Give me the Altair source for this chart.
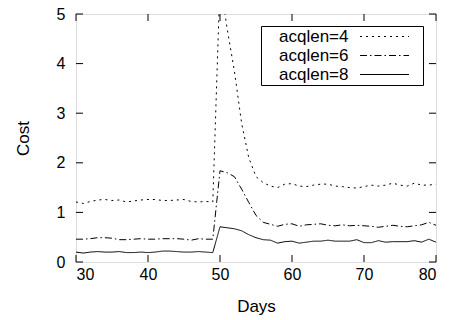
import altair as alt
import pandas as pd

days = list(range(30, 81))
series = ["acqlen=4", "acqlen=6", "acqlen=8"]

cost4 = [1.21, 1.18, 1.22, 1.25, 1.26, 1.24, 1.25, 1.21, 1.23, 1.25,
         1.26, 1.26, 1.24, 1.24, 1.25, 1.26, 1.22, 1.21, 1.22, 1.21,
         5.65, 4.70, 3.85, 2.80, 2.10, 1.72, 1.60, 1.53, 1.50, 1.57,
         1.58, 1.53, 1.52, 1.55, 1.57, 1.57, 1.53, 1.52, 1.50, 1.49,
         1.52, 1.55, 1.53, 1.55, 1.59, 1.55, 1.53, 1.59, 1.55, 1.55,
         1.57]
cost6 = [0.46, 0.46, 0.47, 0.49, 0.49, 0.48, 0.45, 0.45, 0.46, 0.47,
         0.46, 0.46, 0.47, 0.47, 0.47, 0.46, 0.44, 0.47, 0.46, 0.46,
         1.84, 1.80, 1.72, 1.47, 1.20, 0.94, 0.80, 0.76, 0.72, 0.76,
         0.77, 0.72, 0.75, 0.76, 0.77, 0.74, 0.73, 0.75, 0.73, 0.74,
         0.73, 0.72, 0.70, 0.72, 0.74, 0.72, 0.71, 0.73, 0.75, 0.80,
         0.74]
cost8 = [0.20, 0.18, 0.20, 0.21, 0.20, 0.20, 0.21, 0.19, 0.19, 0.20,
         0.19, 0.20, 0.22, 0.22, 0.21, 0.20, 0.20, 0.21, 0.20, 0.19,
         0.71, 0.69, 0.67, 0.63, 0.55, 0.49, 0.45, 0.44, 0.38, 0.41,
         0.42, 0.38, 0.40, 0.42, 0.42, 0.44, 0.42, 0.42, 0.42, 0.45,
         0.39, 0.39, 0.43, 0.40, 0.41, 0.41, 0.41, 0.43, 0.40, 0.46,
         0.40]

x_ticks = [30, 40, 50, 60, 70, 80]
y_ticks = [0, 1, 2, 3, 4, 5]

rows = []
for name, vals in zip(series, [cost4, cost6, cost8]):
    for d, v in zip(days, vals):
        rows.append({"Days": d, "Cost": v, "series": name})
df = pd.DataFrame(rows)

W, H = 360, 248
FONT = "Liberation Sans"
xscale = alt.Scale(domain=[30, 80], nice=False, zero=False)
yscale = alt.Scale(domain=[0, 5], nice=False)

lines = alt.Chart(df).mark_line(clip=True, color="black", strokeWidth=1).encode(
    x=alt.X("Days:Q", scale=xscale,
            axis=alt.Axis(values=x_ticks, ticks=False, domain=False, grid=False,
                          labelPadding=4, labelFontSize=16, labelFont=FONT,
                          labelColor="black", title="Days", titleFontSize=17,
                          titleFont=FONT, titleFontWeight="normal",
                          titleColor="black", titlePadding=16)),
    y=alt.Y("Cost:Q", scale=yscale,
            axis=alt.Axis(values=y_ticks, ticks=False, domain=False, grid=False,
                          labelPadding=11, labelFontSize=16, labelFont=FONT,
                          labelColor="black", title="Cost", titleFontSize=17,
                          titleFont=FONT, titleFontWeight="normal",
                          titleColor="black", titlePadding=24)),
    strokeDash=alt.StrokeDash(
        "series:N",
        scale=alt.Scale(domain=series, range=[[2, 4], [7, 3, 1.5, 3], [1, 0]]),
        legend=alt.Legend(title=None, orient="none", legendX=185, legendY=12,
                          strokeColor="black", fillColor="white", padding=2,
                          symbolType="M-4,0H4M5.5,0", symbolSize=150,
                          symbolStrokeWidth=1, symbolStrokeColor="black",
                          symbolFillColor="transparent",
                          symbolOffset=113, rowPadding=1,
                          labelOffset={"expr": "-114"},
                          labelFontSize=17, labelFont=FONT, labelColor="black")),
    detail="series:N",
)

xt = pd.DataFrame({"v": x_ticks})
yt = pd.DataFrame({"v": y_ticks})
tick_len = 7
xb = alt.Chart(xt).mark_rule(color="black", strokeWidth=1).encode(
    x=alt.X("v:Q", scale=xscale), y=alt.value(H), y2=alt.value(H - tick_len))
xtop = alt.Chart(xt).mark_rule(color="black", strokeWidth=1).encode(
    x=alt.X("v:Q", scale=xscale), y=alt.value(0), y2=alt.value(tick_len))
yl = alt.Chart(yt).mark_rule(color="black", strokeWidth=1).encode(
    y=alt.Y("v:Q", scale=yscale), x=alt.value(0), x2=alt.value(tick_len))
yr = alt.Chart(yt).mark_rule(color="black", strokeWidth=1).encode(
    y=alt.Y("v:Q", scale=yscale), x=alt.value(W - tick_len), x2=alt.value(W))

chart = alt.layer(xb, xtop, yl, yr, lines).properties(
    width=W, height=H,
    autosize=alt.AutoSizeParams(type="none"),
    padding={"left": 68, "top": 6, "right": 8, "bottom": 56},
).configure_view(stroke="black", strokeWidth=1.2).configure(background="white")

chart.save("out.html", embed_options={"renderer": "svg", "actions": False})
